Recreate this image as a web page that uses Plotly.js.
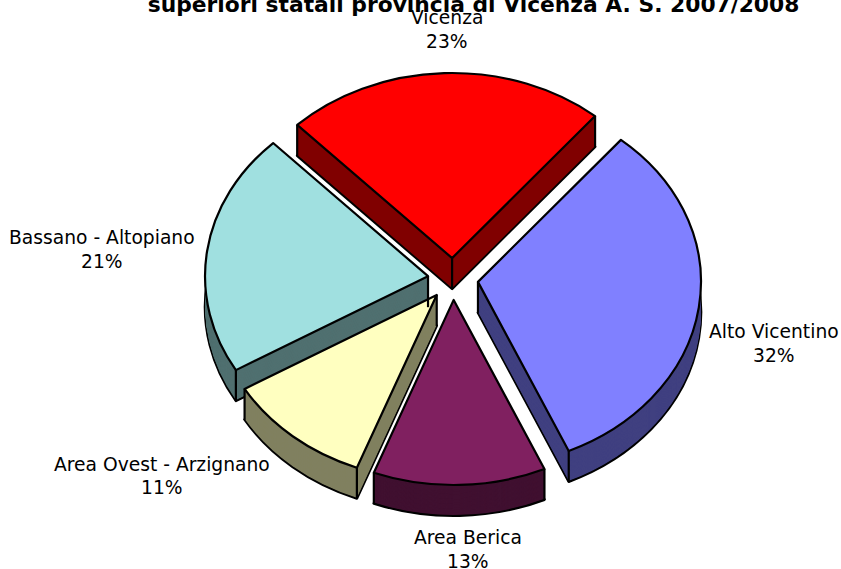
<!DOCTYPE html>
<html>
<head>
<meta charset="utf-8">
<script src="https://cdn.plot.ly/plotly-3.0.1.min.js"></script>
<style>html,body{margin:0;padding:0;background:#fff}#chart{width:841px;height:569px}</style>
</head>
<body>
<div id="chart"></div>
<script>
// --- data ---
const categories = ['Vicenza', 'Alto Vicentino', 'Area Berica', 'Area Ovest - Arzignano', 'Bassano - Altopiano'];
const shares = [23.3, 32.25, 12.5, 10.7, 21.25];
const topColors = ['#FF0000', '#8080FF', '#802060', '#FFFFC0', '#A0E0E0'];
const wallColors = ['#800000', '#404080', '#401030', '#808060', '#507070'];
const chartTitle = 'superiori statali provincia di Vicenza A. S. 2007/2008';
// --- label placement (pixels) ---
const labelX = [447, 774, 468, 162, 102];
const labelNameY = [18, 331, 537, 464, 237];
const labelPctY = [41, 355, 561, 487, 261];
// --- pie geometry (pixels) ---
const W = 841, H = 569;
const cx = 453, cyScreen = 279, radius = 223, pull = 0.113;
const squash = 0.83, startAngle = -44, depth = 31;
const cyPre = 258;                                    // centre before squash
const depthPre = Math.round(depth / squash);
const half = radius * (1 + pull);
const translateY = cyScreen - squash * cyPre;
// which vertical edges show: [apex, first rim corner, last rim corner]
const edgeShown = [[1,1,1],[1,0,1],[0,1,1],[1,1,1],[1,1,0]];

function pieLayer(offset, colors, lineWidth) {
  const cy = cyPre + offset;
  return {
    type: 'pie', values: shares, labels: categories, sort: false,
    direction: 'clockwise', rotation: startAngle, pull: pull,
    textinfo: 'none', hoverinfo: 'label+percent', showlegend: false,
    marker: {colors: colors, line: {color: '#000', width: lineWidth}},
    domain: {x: [(cx - half) / W, (cx + half) / W],
             y: [1 - (cy + half) / H, 1 - (cy - half) / H]}
  };
}
const data = [];
for (let d = depthPre; d >= 1; d--) {
  data.push(pieLayer(d, wallColors, d === depthPre ? 2.6 : 0));
}
data.push(pieLayer(0, topColors, 2.2));

// vertical edges of the extruded wedges, derived from the shares
const shapes = [];
const total = shares.reduce((a, b) => a + b, 0);
let acc = 0;
shares.forEach((v, i) => {
  const a0 = startAngle + acc / total * 360;
  const a1 = a0 + v / total * 360;
  acc += v;
  const mid = (a0 + a1) / 2 * Math.PI / 180;
  const ax = cx + radius * pull * Math.sin(mid);
  const ay = cyScreen - squash * radius * pull * Math.cos(mid);
  const pts = [[ax, ay]];
  [a0, a1].forEach(a => {
    const t = a * Math.PI / 180;
    pts.push([ax + radius * Math.sin(t), ay - squash * radius * Math.cos(t)]);
  });
  pts.forEach((p, j) => {
    if (!edgeShown[i][j]) return;
    shapes.push({type: 'line', xref: 'paper', yref: 'paper', layer: 'above',
      x0: p[0] / W, x1: p[0] / W, y0: 1 - p[1] / H, y1: 1 - (p[1] + depth) / H,
      line: {color: '#000', width: 2.2}});
  });
});

const font = {family: '"DejaVu Sans", Verdana, sans-serif', size: 18.7, color: '#000'};
const annotations = [];
categories.forEach((c, i) => {
  const base = {xref: 'paper', yref: 'paper', x: labelX[i] / W, xanchor: 'center',
                yanchor: 'middle', showarrow: false, font: font};
  annotations.push(Object.assign({}, base, {text: c, y: 1 - labelNameY[i] / H}));
  annotations.push(Object.assign({}, base, {text: Math.round(shares[i]) + '%', y: 1 - labelPctY[i] / H}));
});

const layout = {
  width: W, height: H, margin: {l: 0, r: 0, t: 0, b: 0},
  paper_bgcolor: '#fff', plot_bgcolor: '#fff', showlegend: false,
  title: {text: '<b>' + chartTitle + '</b>', x: 473.5 / W, xanchor: 'center',
          y: 1 - 4 / H, yanchor: 'middle', yref: 'container',
          font: {family: '"DejaVu Sans", Verdana, sans-serif', size: 21.8, color: '#000'}},
  annotations: annotations, shapes: shapes
};

Plotly.newPlot('chart', data, layout, {displayModeBar: false, staticPlot: true}).then(gd => {
  // tilt the pie: the library draws a circle, the reference is seen in perspective
  const layer = gd.querySelector('.pielayer');
  layer.setAttribute('transform', 'translate(0,' + translateY + ') scale(1,' + squash + ')');
  gd.querySelectorAll('.pielayer path').forEach(p => p.style.vectorEffect = 'non-scaling-stroke');
});
</script>
</body>
</html>
